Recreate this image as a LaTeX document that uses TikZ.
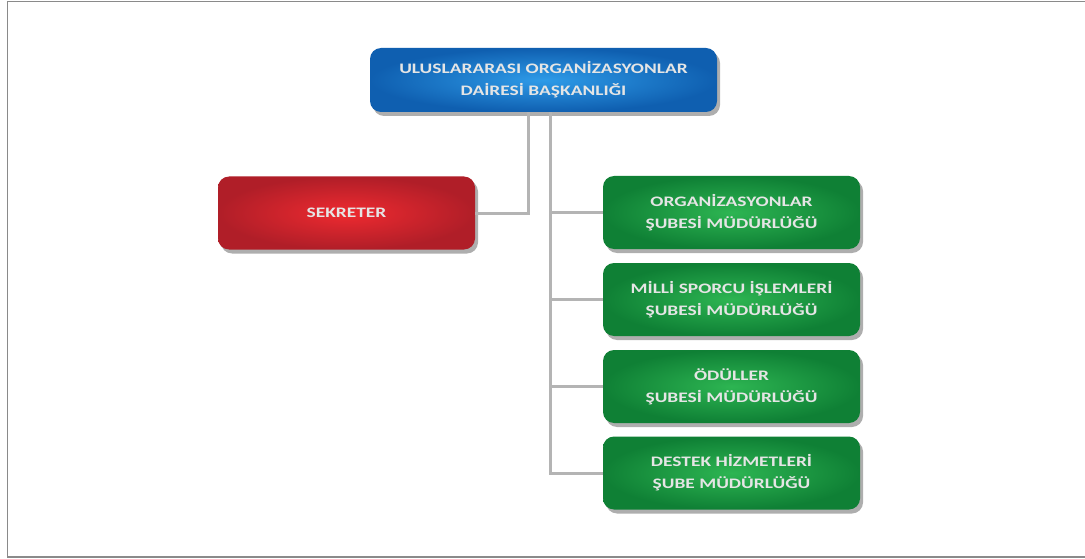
\documentclass[tikz,border=0pt]{standalone}
\usepackage{fontspec}
\setmainfont{Carlito}
\newfontfamily\boxfont[FakeStretch=1.34]{Carlito}
\usetikzlibrary{shadows,calc}
\definecolor{blueA}{HTML}{2E9BE8}
\definecolor{blueB}{HTML}{0F5FB0}
\definecolor{redA}{HTML}{EE2A30}
\definecolor{redB}{HTML}{B01E28}
\definecolor{greenA}{HTML}{2DB552}
\definecolor{greenB}{HTML}{0F8035}
\definecolor{conn}{HTML}{B4B4B4}
\definecolor{frame}{HTML}{8A8A8A}
\tikzset{
  box/.style={rounded corners=11pt, minimum width=257pt, minimum height=73pt,
    align=center, text=white!90!black, font=\boxfont\bfseries\fontsize{14.5}{22}\selectfont,
    drop shadow={shadow xshift=3pt, shadow yshift=-4pt, fill=black!45, opacity=0.7}},
  bluebox/.style={box, minimum width=347pt, minimum height=64pt, inner color=blueA, outer color=blueB},
  redbox/.style={box, inner color=redA, outer color=redB},
  greenbox/.style={box, inner color=greenA, outer color=greenB},
  link/.style={draw=conn, line width=3pt}
}
\begin{document}
\begin{tikzpicture}[x=1pt,y=-1pt]
\useasboundingbox (0,0) rectangle (1085,559);
\fill[white] (0,0) rectangle (1085,559);
\draw[frame, line width=1.5pt] (1085,1.5) -- (7.5,1.5) -- (7.5,557) -- (1085,557);
\node[bluebox] (top) at (543.5,80) {ULUSLARARASI ORGANİZASYONLAR\\DAİRESİ BAŞKANLIĞI};
\node[redbox] (sek) at (346.5,213) {SEKRETER};
\node[greenbox] (g1) at (731.5,212.5) {ORGANİZASYONLAR\\ŞUBESİ MÜDÜRLÜĞÜ};
\node[greenbox] (g2) at (731.5,299.5) {MİLLİ SPORCU İŞLEMLERİ\\ŞUBESİ MÜDÜRLÜĞÜ};
\node[greenbox] (g3) at (731.5,386.5) {ÖDÜLLER\\ŞUBESİ MÜDÜRLÜĞÜ};
\node[greenbox] (g4) at (731.5,473) {DESTEK HİZMETLERİ\\ŞUBE MÜDÜRLÜĞÜ};
\coordinate (trunk) at ([xshift=6.5pt]top.south);
\coordinate (left) at ([xshift=-15.5pt]top.south);
\path[link] (left) |- (sek.east);
\path[link] (trunk) |- (g4.west);
\path[link] (g1.west) -- (g1.west -| trunk);
\path[link] (g2.west) -- (g2.west -| trunk);
\path[link] (g3.west) -- (g3.west -| trunk);
\end{tikzpicture}
\end{document}
